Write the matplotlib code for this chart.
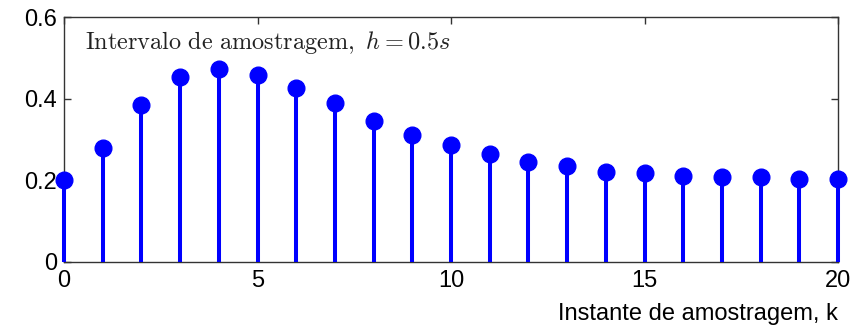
import matplotlib
matplotlib.use("Agg")
import matplotlib.pyplot as plt
import numpy as np

k = list(range(21))
values = [0.201, 0.279, 0.385, 0.453, 0.473, 0.457, 0.426, 0.389, 0.346, 0.311,
          0.287, 0.265, 0.246, 0.235, 0.221, 0.219, 0.211, 0.207, 0.207, 0.203, 0.203]
xticks = [0, 5, 10, 15, 20]
yticks = [0, 0.2, 0.4, 0.6]
ytick_labels = ["0", "0.2", "0.4", "0.6"]

plt.rcParams['mathtext.fontset'] = 'cm'
plt.rcParams['font.family'] = ['Liberation Sans', 'DejaVu Sans']

fig = plt.figure(figsize=(8.63, 3.27), dpi=100)
ax = fig.add_axes([64/863, 1-262/327, (838-64)/863, (262-17)/327])

markerline, stemlines, baseline = ax.stem(k, values, basefmt=' ')
plt.setp(stemlines, color='#0000ff', linewidth=2.9, zorder=3)
plt.setp(markerline, color='#0000ff', markersize=12, clip_on=False, zorder=5)
stemlines.set_clip_on(False)

ax.set_xlim(0, 20)
ax.set_ylim(0, 0.6)
ax.set_xticks(xticks)
ax.set_yticks(yticks)
ax.set_yticklabels(ytick_labels)
ax.tick_params(direction='in', top=True, right=True, labelsize=17, length=5,
               width=1, colors='#333333', labelcolor='black')
ax.tick_params(axis='x', pad=6)
ax.tick_params(axis='y', pad=5)
for s in ax.spines.values():
    s.set_color('#333333')
    s.set_linewidth(1)

ax.text(0.027, 0.895, r"$\mathrm{Intervalo\ de\ amostragem,}\ h=0.5s$",
        transform=ax.transAxes, fontsize=17.5, color='#222222', va='center', ha='left')

ax.set_xlabel("Instante de amostragem, k", fontsize=17, loc='right', labelpad=8)

fig.savefig("out.png", dpi=100)
